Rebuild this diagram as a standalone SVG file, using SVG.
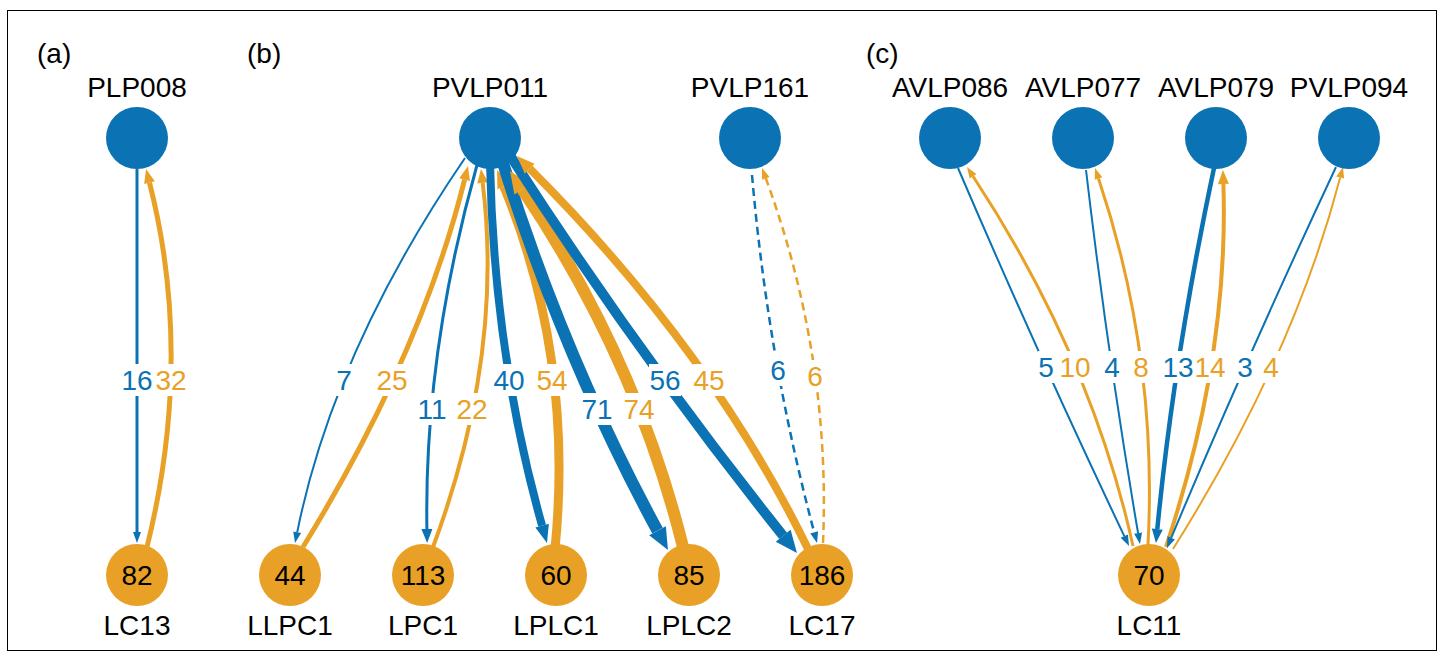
<svg xmlns="http://www.w3.org/2000/svg" width="1445" height="661" viewBox="0 0 1445 661">
<style>
  .t { font-family: "Liberation Sans", Arial, Helvetica, sans-serif; font-size: 28px; fill: #000; }
  .c { text-anchor: middle; }
  .bn { fill: #0B72B4; }
  .on { fill: #E8A126; }
  .be { fill: none; stroke: #0B72B4; }
  .oe { fill: none; stroke: #E8A126; }
  .dash { stroke-dasharray: 8 5; }
  .lb { fill: #0B72B4; }
  .lo { fill: #E8A126; }
  .bg { fill: #fff; }
</style>
<defs>
  <marker id="bS" markerUnits="userSpaceOnUse" markerWidth="11" markerHeight="8" viewBox="0 0 11 8" refX="0" refY="4" orient="auto" overflow="visible"><path d="M0,0L11,4L0,8z" fill="#0B72B4"/></marker>
  <marker id="bM" markerUnits="userSpaceOnUse" markerWidth="14" markerHeight="11" viewBox="0 0 14 11" refX="0" refY="5.5" orient="auto" overflow="visible"><path d="M0,0L14,5.5L0,11z" fill="#0B72B4"/></marker>
  <marker id="bL" markerUnits="userSpaceOnUse" markerWidth="18" markerHeight="14" viewBox="0 0 18 14" refX="0" refY="7" orient="auto" overflow="visible"><path d="M0,0L18,7L0,14z" fill="#0B72B4"/></marker>
  <marker id="bXL" markerUnits="userSpaceOnUse" markerWidth="22" markerHeight="19" viewBox="0 0 22 19" refX="0" refY="9.5" orient="auto" overflow="visible"><path d="M0,0L22,9.5L0,19z" fill="#0B72B4"/></marker>
  <marker id="oS" markerUnits="userSpaceOnUse" markerWidth="11" markerHeight="8" viewBox="0 0 11 8" refX="0" refY="4" orient="auto" overflow="visible"><path d="M0,0L11,4L0,8z" fill="#E8A126"/></marker>
  <marker id="oM" markerUnits="userSpaceOnUse" markerWidth="14" markerHeight="11" viewBox="0 0 14 11" refX="0" refY="5.5" orient="auto" overflow="visible"><path d="M0,0L14,5.5L0,11z" fill="#E8A126"/></marker>
  <marker id="oL" markerUnits="userSpaceOnUse" markerWidth="18" markerHeight="14" viewBox="0 0 18 14" refX="0" refY="7" orient="auto" overflow="visible"><path d="M0,0L18,7L0,14z" fill="#E8A126"/></marker>
  <marker id="oXL" markerUnits="userSpaceOnUse" markerWidth="22" markerHeight="19" viewBox="0 0 22 19" refX="0" refY="9.5" orient="auto" overflow="visible"><path d="M0,0L22,9.5L0,19z" fill="#E8A126"/></marker>
</defs>

<rect x="7.5" y="10.5" width="1429" height="640" fill="#fff" stroke="#000" stroke-width="1"/>

<g id="panel-labels">
  <text class="t" x="37" y="63">(a)</text>
  <text class="t" x="247" y="63">(b)</text>
  <text class="t" x="866" y="63">(c)</text>
</g>

<g id="connectors">
  <!-- (a) -->
  <path class="be" stroke-width="3" d="M137,169 L137,532" marker-end="url(#bS)"/>
  <path class="oe" stroke-width="5" d="M147,547 Q194,357 149.5,182.6" marker-end="url(#oM)"/>
  <!-- (b) -->
  <path class="be" stroke-width="2" d="M465,158 Q334,350 297.2,532.2" marker-end="url(#bS)"/>
  <path class="oe" stroke-width="5" d="M303,547 Q421,355 464.6,179.6" marker-end="url(#oM)"/>
  <path class="be" stroke-width="3" d="M477,165 Q424,354 426.9,529" marker-end="url(#bM)"/>
  <path class="oe" stroke-width="4" d="M433,547 Q504,357 482.7,182.9" marker-end="url(#oM)"/>
  <path class="be" stroke-width="8" d="M490,163 Q494,355 542.1,525.7" marker-end="url(#bL)"/>
  <path class="oe" stroke-width="9" d="M555,549 Q574,357 503.9,186.6" marker-end="url(#oL)"/>
  <path class="be" stroke-width="12" d="M503,163 Q564,358 657.5,530.7" marker-end="url(#bXL)"/>
  <path class="oe" stroke-width="12" d="M684,551 Q637,359 522.3,189.2" marker-end="url(#oXL)"/>
  <path class="be" stroke-width="10" d="M511,157 Q640,357 783.2,535.8" marker-end="url(#bXL)"/>
  <path class="oe" stroke-width="8" d="M809,551 Q713,352 529.7,168.7" marker-end="url(#oL)"/>
  <path class="be dash" stroke-width="2.5" d="M752,175 Q768,359 814.2,532.4" marker-end="url(#bS)"/>
  <path class="oe dash" stroke-width="2.5" d="M823,543 Q831,356 765.8,178.3" marker-end="url(#oS)"/>
  <!-- (c) -->
  <path class="be" stroke-width="2" d="M958,168 Q1039,357 1124.3,536.1" marker-end="url(#bS)"/>
  <path class="oe" stroke-width="3" d="M1133,546 Q1091,356 973,176.2" marker-end="url(#oS)"/>
  <path class="be" stroke-width="2" d="M1086,170 Q1108,357 1138.1,533.2" marker-end="url(#bS)"/>
  <path class="oe" stroke-width="3" d="M1148,545 Q1158,356 1098.5,178.4" marker-end="url(#oS)"/>
  <path class="be" stroke-width="4.5" d="M1214,168 Q1174,357 1157.3,529.1" marker-end="url(#bM)"/>
  <path class="oe" stroke-width="4" d="M1166,547 Q1229,357 1223.4,184" marker-end="url(#oM)"/>
  <path class="be" stroke-width="2" d="M1336,167 Q1247,357 1171.2,537.9" marker-end="url(#bS)"/>
  <path class="oe" stroke-width="2" d="M1173,549 Q1293,358 1340.2,177.6" marker-end="url(#oS)"/>
</g>

<g id="edge-labels">
  <rect class="bg" x="121" y="364" width="32" height="32"/><text class="t c lb" x="137" y="390">16</text>
  <rect class="bg" x="155" y="364" width="32" height="32"/><text class="t c lo" x="171" y="390">32</text>

  <rect class="bg" x="336" y="364" width="17" height="32"/><text class="t c lb" x="344" y="390">7</text>
  <rect class="bg" x="376" y="364" width="32" height="32"/><text class="t c lo" x="392" y="390">25</text>
  <rect class="bg" x="416" y="393" width="32" height="32"/><text class="t c lb" x="432" y="419">11</text>
  <rect class="bg" x="456" y="393" width="32" height="32"/><text class="t c lo" x="472" y="419">22</text>
  <rect class="bg" x="493" y="364" width="32" height="32"/><text class="t c lb" x="509" y="390">40</text>
  <rect class="bg" x="536" y="364" width="32" height="32"/><text class="t c lo" x="552" y="390">54</text>
  <rect class="bg" x="581" y="393" width="32" height="32"/><text class="t c lb" x="597" y="419">71</text>
  <rect class="bg" x="623" y="393" width="32" height="32"/><text class="t c lo" x="639" y="419">74</text>
  <rect class="bg" x="649" y="364" width="32" height="32"/><text class="t c lb" x="665" y="390">56</text>
  <rect class="bg" x="693" y="364" width="32" height="32"/><text class="t c lo" x="709" y="390">45</text>
  <rect class="bg" x="770" y="354" width="17" height="32"/><text class="t c lb" x="778" y="380">6</text>
  <rect class="bg" x="807" y="360" width="17" height="32"/><text class="t c lo" x="815" y="386">6</text>

  <rect class="bg" x="1038" y="351" width="17" height="32"/><text class="t c lb" x="1046" y="377">5</text>
  <rect class="bg" x="1059" y="351" width="32" height="32"/><text class="t c lo" x="1075" y="377">10</text>
  <rect class="bg" x="1104" y="351" width="17" height="32"/><text class="t c lb" x="1112" y="377">4</text>
  <rect class="bg" x="1133" y="351" width="17" height="32"/><text class="t c lo" x="1141" y="377">8</text>
  <rect class="bg" x="1162" y="351" width="32" height="32"/><text class="t c lb" x="1178" y="377">13</text>
  <rect class="bg" x="1195" y="351" width="31" height="32"/><text class="t c lo" x="1210" y="377">14</text>
  <rect class="bg" x="1237" y="351" width="17" height="32"/><text class="t c lb" x="1245" y="377">3</text>
  <rect class="bg" x="1263" y="351" width="17" height="32"/><text class="t c lo" x="1271" y="377">4</text>
</g>

<g id="PLP008"><circle class="bn" cx="137" cy="138" r="31"/><text class="t c" x="137" y="97">PLP008</text></g>
<g id="LC13"><circle class="on" cx="137" cy="575" r="31"/><text class="t c" x="137" y="585">82</text><text class="t c" x="137" y="635">LC13</text></g>

<g id="PVLP011"><circle class="bn" cx="490" cy="138" r="31"/><text class="t c" x="490" y="97">PVLP011</text></g>
<g id="PVLP161"><circle class="bn" cx="750" cy="138" r="31"/><text class="t c" x="750" y="97">PVLP161</text></g>
<g id="LLPC1"><circle class="on" cx="290" cy="575" r="31"/><text class="t c" x="290" y="585">44</text><text class="t c" x="290" y="635">LLPC1</text></g>
<g id="LPC1"><circle class="on" cx="423" cy="575" r="31"/><text class="t c" x="423" y="585">113</text><text class="t c" x="423" y="635">LPC1</text></g>
<g id="LPLC1"><circle class="on" cx="556" cy="575" r="31"/><text class="t c" x="556" y="585">60</text><text class="t c" x="556" y="635">LPLC1</text></g>
<g id="LPLC2"><circle class="on" cx="689" cy="575" r="31"/><text class="t c" x="689" y="585">85</text><text class="t c" x="689" y="635">LPLC2</text></g>
<g id="LC17"><circle class="on" cx="822" cy="575" r="31"/><text class="t c" x="822" y="585">186</text><text class="t c" x="822" y="635">LC17</text></g>

<g id="AVLP086"><circle class="bn" cx="950" cy="138" r="31"/><text class="t c" x="950" y="97">AVLP086</text></g>
<g id="AVLP077"><circle class="bn" cx="1083" cy="138" r="31"/><text class="t c" x="1083" y="97">AVLP077</text></g>
<g id="AVLP079"><circle class="bn" cx="1216" cy="138" r="31"/><text class="t c" x="1216" y="97">AVLP079</text></g>
<g id="PVLP094"><circle class="bn" cx="1349" cy="138" r="31"/><text class="t c" x="1349" y="97">PVLP094</text></g>
<g id="LC11"><circle class="on" cx="1149" cy="575" r="31"/><text class="t c" x="1149" y="585">70</text><text class="t c" x="1149" y="635">LC11</text></g>
</svg>
